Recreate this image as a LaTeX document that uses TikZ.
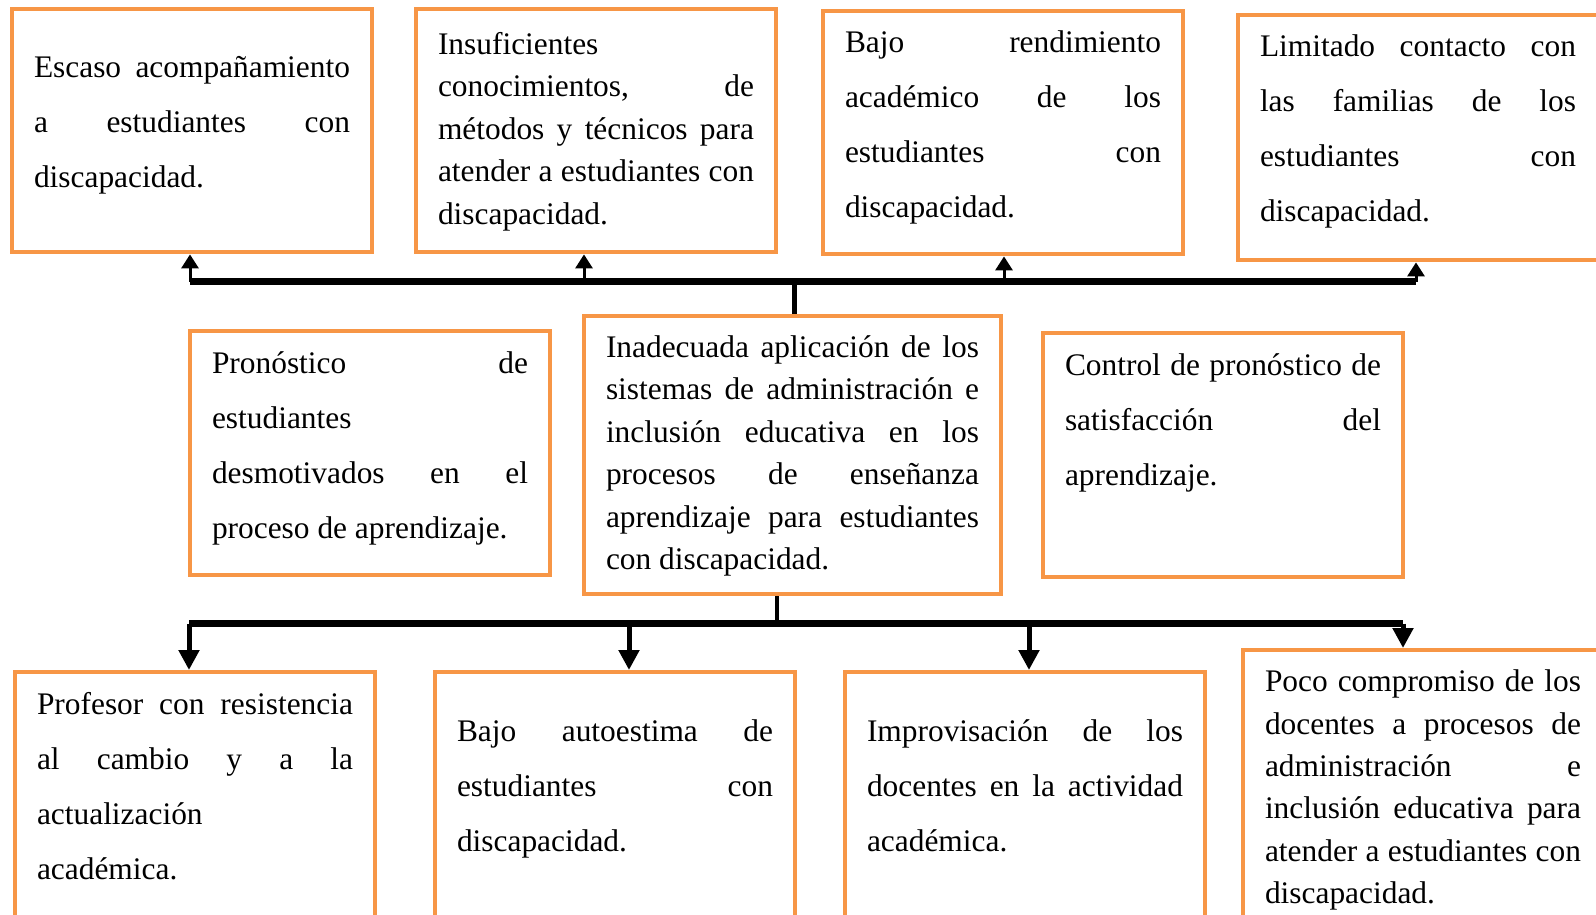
\documentclass[tikz,border=0pt]{standalone}
\usepackage{fontspec}
\setmainfont{Liberation Serif}
\usetikzlibrary{positioning,arrows.meta}
\definecolor{naranja}{HTML}{F79646}

% [ancho]{alto}{interlineado}{primer renglon}{texto}
\newcommand{\renglones}[5][158pt]{%
  \parbox[t][#2][t]{#1}{\fontsize{15.7pt}{#3}\selectfont
    \tolerance=10000\hbadness=10000\rule{0pt}{#4}#5}}

\begin{document}
\begin{tikzpicture}[x=0.5pt, y=-0.5pt,
        caja/.style={draw=naranja, line width=2pt, anchor=north west,
            inner xsep=11pt, inner ysep=0pt},
        barra/.style={line width=3.2pt},
        sube/.style={line width=1.5pt, -{Triangle[length=7pt,width=8.5pt]}},
        baja/.style={line width=2.5pt, -{Triangle[length=10pt,width=10pt]}}]
            \useasboundingbox (0,0) rectangle (1596,915);
            \clip (0,0) rectangle (1596,915);

            % efectos
            \node[caja] (ef1) at (10,7) {\renglones{121.7pt}{27.5pt}{34.2pt}{%
                Escaso acompañamiento\linebreak a estudiantes con\linebreak discapacidad.}};
            \node[caja] (ef2) at (414,7) {\renglones{121.7pt}{21.2pt}{22.8pt}{%
                Insuficientes\linebreak conocimientos, de\linebreak métodos y técnicos para\linebreak
                atender a estudiantes con\linebreak discapacidad.}};
            \node[caja] (ef3) at (821,9) {\renglones{121.7pt}{27.5pt}{21pt}{%
                Bajo rendimiento\linebreak académico de los\linebreak estudiantes con\linebreak discapacidad.}};
            \node[caja] (ef4) at (1236,13) {\renglones{122.7pt}{27.5pt}{21pt}{%
                Limitado contacto con\linebreak las familias de los\linebreak estudiantes con\linebreak discapacidad.}};

            % problema central, pronostico y control
            \node[caja] (pron) at (188,329) {\renglones{122.2pt}{27.5pt}{21.3pt}{%
                Pronóstico de\linebreak estudiantes\linebreak desmotivados en el\linebreak proceso de aprendizaje.}};
            \node[caja] (prob) at (582,314) {\renglones[186.5pt]{139.2pt}{21.2pt}{20.7pt}{%
                Inadecuada aplicación de los\linebreak sistemas de administración e\linebreak
                inclusión educativa en los\linebreak procesos de enseñanza\linebreak
                aprendizaje para estudiantes\linebreak con discapacidad.}};
            \node[caja] (ctrl) at (1041,331) {\renglones{122.2pt}{27.5pt}{21.3pt}{%
                Control de pronóstico de\linebreak satisfacción del\linebreak aprendizaje.}};

            % causas
            \node[caja] (ca1) at (13,670) {\renglones{125pt}{27.5pt}{21.3pt}{%
                Profesor con resistencia\linebreak al cambio y a la\linebreak actualización\linebreak académica.}};
            \node[caja] (ca2) at (433,670) {\renglones{125pt}{27.5pt}{34.5pt}{%
                Bajo autoestima de\linebreak estudiantes con\linebreak discapacidad.}};
            \node[caja] (ca3) at (843,670) {\renglones{125pt}{27.5pt}{34.5pt}{%
                Improvisación de los\linebreak docentes en la actividad\linebreak académica.}};
            \node[caja] (ca4) at (1241,648) {\renglones{140pt}{21.2pt}{20.8pt}{%
                Poco compromiso de los\linebreak docentes a procesos de\linebreak administración e\linebreak
                inclusión educativa para\linebreak atender a estudiantes con\linebreak discapacidad.}};

            % barra superior hacia los efectos
            \coordinate (s1) at (190,281.5);
            \coordinate (s2) at (584,281.5);
            \coordinate (s3) at (1004,281.5);
            \coordinate (s4) at (1416,281.5);
            \coordinate (sc) at (794,281.5);
            \draw[barra] (s1) -- (s4);
            \draw[line width=2.5pt] (prob.north -| sc) -- (sc);
            \draw[sube] (s1) -- (s1 |- ef1.south);
            \draw[sube] (s2) -- (s2 |- ef2.south);
            \draw[sube] (s3) -- (s3 |- ef3.south);
            \draw[sube] (s4) -- (s4 |- ef4.south);

            % barra inferior hacia las causas
            \coordinate (b1) at (189,623.5);
            \coordinate (b2) at (629,623.5);
            \coordinate (b3) at (1029,623.5);
            \coordinate (b4) at (1403,623.5);
            \coordinate (bc) at (777,623.5);
            \draw[barra] (b1) -- (b4);
            \draw[line width=2.3pt] (prob.south -| bc) -- (bc);
            \draw[baja] (b1) -- (b1 |- ca1.north);
            \draw[baja] (b2) -- (b2 |- ca2.north);
            \draw[baja] (b3) -- (b3 |- ca3.north);
            \draw[baja] (b4) -- (b4 |- ca4.north);
        \end{tikzpicture}
\end{document}
